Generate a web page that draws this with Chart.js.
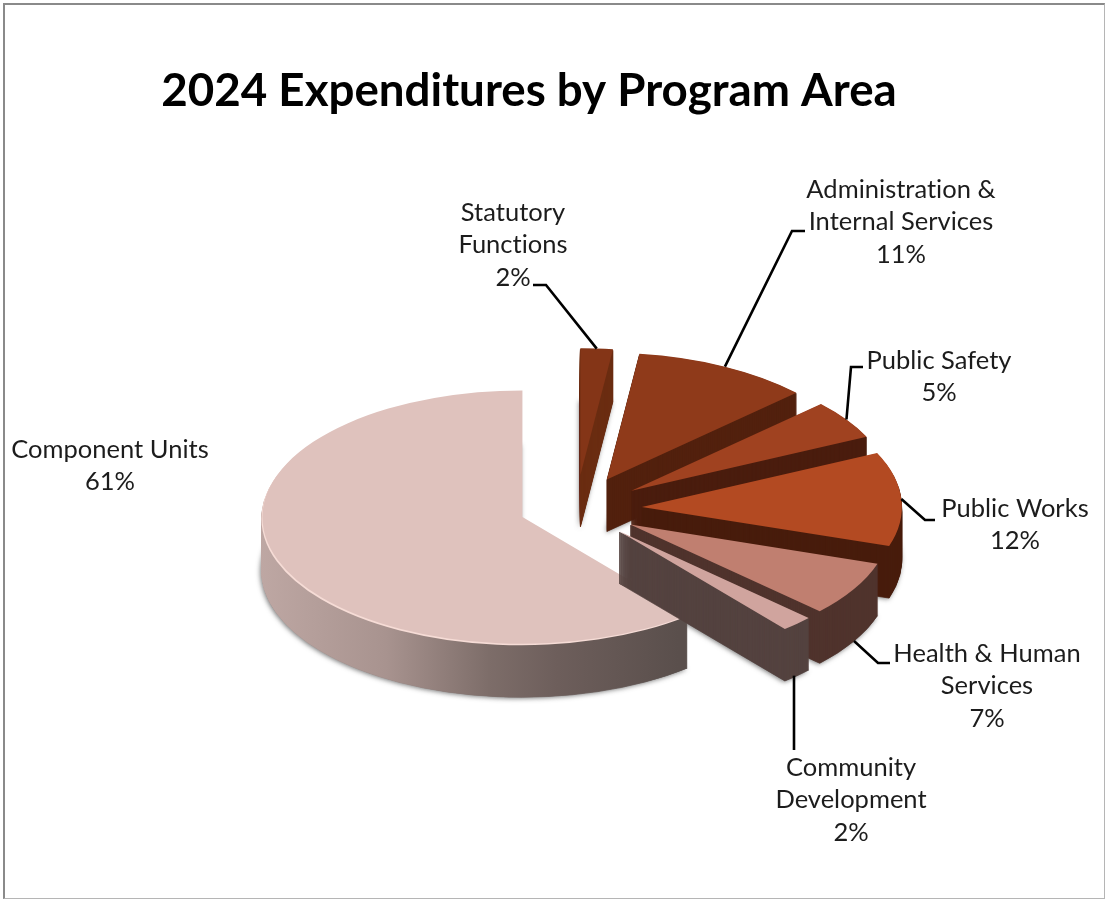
<!DOCTYPE html>
<html>
<head>
<meta charset="utf-8">
<title>2024 Expenditures by Program Area</title>
<script src="https://cdn.jsdelivr.net/npm/chart.js@4/dist/chart.umd.min.js"></script>
<style>
    html, body { margin: 0; padding: 0; background: #ffffff; overflow: hidden; }
    #frame {
        position: absolute; left: 3px; top: 3px; width: 1099px; height: 893px;
        border-left: 2px solid #8a8a8a; border-top: 2px solid #8a8a8a;
        border-right: 1px solid #b5b5b5; border-bottom: 1px solid #b5b5b5;
    }
    #chart { position: absolute; left: 0; top: 0; }
</style>
</head>
<body>
<div id="frame"></div>
<canvas id="chart" width="1105" height="899"></canvas>
<script>
// clockwise from 12 o'clock, same order as the workbook
const categories = [
    ['Statutory', 'Functions'],
    ['Administration &', 'Internal Services'],
    ['Public Safety'],
    ['Public Works'],
    ['Health & Human', 'Services'],
    ['Community', 'Development'],
    ['Component Units']
];
const values = [2, 11, 5, 12, 7, 2, 61];
const explode = [70, 68, 67, 66, 63, 63, 58];

const topColors = ['#843517', '#8f3a1a', '#a04220', '#b34a22', '#c07f70', '#d0a49e', '#dfc2bd'];
const sideColors = ['#6b2d12', '#52210e', '#4a1d0e', '#481c0c', '#50332d', '#54423f', null];

// pie projection: centre on the page, vertical squash, thickness
const pieX = 576;
const pieY = 509;
const squash = 0.487;
const depth = 52;

// label centre x, y of first line; elbow of the leader line
const labelX = [513, 901, 939, 1015, 987, 851, 110];
const labelY = [212.5, 189.5, 360.5, 508.5, 653.5, 767.5, 449.5];
const lineEnd = [[533, 285], [805, 231], [863, 367], [935, 520], [890, 663], [794, 750], null];
const lineBend = [[546, 285], [792, 231], [851, 367], [925, 520], [878, 663], [794, 750], null];
const lineFromRim = [false, false, false, false, true, true, false];

const drawOrder = [6, 0, 1, 2, 3, 4, 5];

function withPieTransform(ctx, arc, index, down, fn) {
    const mid = (arc.startAngle + arc.endAngle) / 2;
    ctx.save();
    ctx.translate(pieX, pieY + down);
    ctx.scale(1, squash);
    ctx.translate(Math.cos(mid) * explode[index], Math.sin(mid) * explode[index]);
    ctx.translate(-arc.x, -arc.y);
    fn();
    ctx.restore();
}

function drawArcFilled(ctx, arc, color, border) {
    const saved = arc.options;
    arc.options = Object.assign({}, saved, {
        backgroundColor: color,
        borderColor: color,
        borderWidth: border || 0
    });
    arc.draw(ctx);
    arc.options = saved;
}

function sideFill(ctx, index) {
    if (sideColors[index]) {
        return sideColors[index];
    }
    // rim of the big slice fades from left to right
    const grad = ctx.createLinearGradient(pieX - 320, 0, pieX + 110, 0);
    grad.addColorStop(0, '#c0a9a5');
    grad.addColorStop(0.32, '#a8938f');
    grad.addColorStop(0.56, '#7d6d69');
    grad.addColorStop(0.72, '#6d5e5b');
    grad.addColorStop(1, '#5a4f4c');
    return grad;
}

const pie3d = {
    id: 'pie3d',
    beforeDatasetsDraw(chart) {
        const ctx = chart.ctx;
        const arcs = chart.getDatasetMeta(0).data;

        // soft shadow under the bottom of each slice
        ctx.save();
        ctx.shadowColor = 'rgba(70, 70, 70, 0.75)';
        ctx.shadowBlur = 5;
        ctx.shadowOffsetX = -1;
        ctx.shadowOffsetY = 1;
        drawOrder.forEach(i => {
            withPieTransform(ctx, arcs[i], i, depth, () => drawArcFilled(ctx, arcs[i], '#777777'));
        });
        ctx.restore();

        drawOrder.forEach(i => {
            const arc = arcs[i];
            const fill = sideFill(ctx, i);
            for (let d = depth; d > 0; d--) {
                withPieTransform(ctx, arc, i, d, () => drawArcFilled(ctx, arc, fill, 1));
            }
            if (i === 6) {
                // light bevel along the front edge of the big slice
                withPieTransform(ctx, arc, i, 0, () => drawArcFilled(ctx, arc, '#f6dcd6'));
                ctx.save();
                ctx.translate(1, -1.5);
                withPieTransform(ctx, arc, i, 0, () => drawArcFilled(ctx, arc, topColors[i]));
                ctx.restore();
            } else {
                withPieTransform(ctx, arc, i, 0, () => drawArcFilled(ctx, arc, topColors[i]));
            }
        });

        drawLeaders(ctx, arcs);
        drawLabels(ctx);
        return false;
    }
};

function drawLeaders(ctx, arcs) {
    ctx.save();
    ctx.strokeStyle = '#000000';
    ctx.lineWidth = 2.6;
    arcs.forEach((arc, i) => {
        if (!lineEnd[i]) {
            return;
        }
        const mid = (arc.startAngle + arc.endAngle) / 2;
        const r = arc.outerRadius + explode[i];
        // straight drop lines keep the x of their elbow
        const x = lineBend[i][0] === lineEnd[i][0] ? lineBend[i][0] : pieX + Math.cos(mid) * r;
        const y = pieY + Math.sin(mid) * r * squash + (lineFromRim[i] ? depth : 0);
        ctx.beginPath();
        ctx.moveTo(x, y);
        ctx.lineTo(lineBend[i][0], lineBend[i][1]);
        ctx.lineTo(lineEnd[i][0], lineEnd[i][1]);
        ctx.stroke();
    });
    ctx.restore();
}

function drawLabels(ctx) {
    const total = values.reduce((a, b) => a + b, 0);
    ctx.save();
    ctx.font = '25.5px Lato';
    ctx.letterSpacing = '0.01px'; // no "ti" ligature
    ctx.fillStyle = '#1c1c1c';
    ctx.textAlign = 'center';
    ctx.textBaseline = 'middle';
    categories.forEach((lines, i) => {
        const text = lines.concat(Math.round(values[i] / total * 100) + '%');
        text.forEach((line, n) => {
            ctx.fillText(line, labelX[i], labelY[i] + n * 32.5);
        });
    });
    ctx.restore();
}

new Chart(document.getElementById('chart').getContext('2d'), {
    type: 'pie',
    data: {
        labels: categories,
        datasets: [{
            data: values,
            backgroundColor: topColors,
            borderWidth: 0,
            radius: 260
        }]
    },
    options: {
        responsive: false,
        animation: false,
        layout: { padding: { right: 47 } },
        plugins: {
            legend: { display: false },
            tooltip: { enabled: false },
            title: {
                display: true,
                fullSize: false,
                text: '2024 Expenditures by Program Area',
                color: '#000000',
                font: { family: 'Lato', size: 45.7, weight: 'bold' },
                padding: { top: 64, bottom: 10 }
            }
        }
    },
    plugins: [pie3d]
});
</script>
</body>
</html>
